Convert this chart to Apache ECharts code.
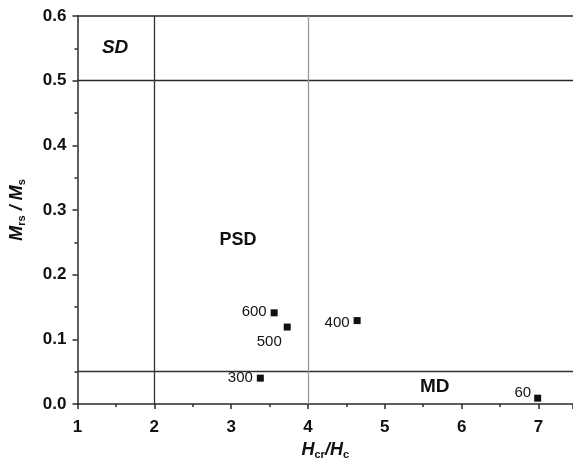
<!DOCTYPE html>
<html>
<head>
<meta charset="utf-8">
<script src="https://cdn.jsdelivr.net/npm/echarts@6/dist/echarts.min.js"></script>
<style>
  html, body { margin: 0; padding: 0; background: #fff; }
  #chart { width: 573px; height: 467px; }
</style>
</head>
<body>
<div id="chart"></div>
<script>
// sample points (Hcr/Hc, Mrs/Ms) with their labels
const sampleNames = ['600', '500', '400', '300', '60']
const hRatio = [3.56, 3.73, 4.64, 3.38, 6.99]
const mRatio = [0.141, 0.119, 0.129, 0.040, 0.009]

// domain boundaries
const mBounds = [0.5, 0.05]
const hBounds = [2, 4]

// region labels
const regionNames = ['SD', 'PSD', 'MD']
const regionX = [1.49, 3.09, 5.65]
const regionY = [0.551, 0.253, 0.027]

const xTicks = [1, 2, 3, 4, 5, 6, 7]

// label placement per sample
const labelPlace = {
  '600': { position: 'left', distance: 4, offset: [0, -1] },
  '500': { position: 'left', distance: 2, offset: [0, 15] },
  '400': { position: 'left', distance: 4, offset: [0, 2] },
  '300': { position: 'left', distance: 4, offset: [0, 0] },
  '60': { position: 'left', distance: 3, offset: [0, -5] }
}

const regionStyle = {
  SD: { fontStyle: 'italic', fontWeight: 'bold', fontSize: 19 },
  PSD: { fontStyle: 'normal', fontWeight: 'bold', fontSize: 18 },
  MD: { fontStyle: 'normal', fontWeight: 'bold', fontSize: 19 }
}

const axisColor = '#2a2a2a'
const textColor = '#111'
const font = '"Liberation Sans", Arial, sans-serif'

const chart = echarts.init(document.getElementById('chart'))

chart.setOption({
  animation: false,
  textStyle: { fontFamily: font },
  grid: { left: 75, right: 0, top: 16, bottom: 63 },
  xAxis: [
    {
      type: 'value',
      min: 1,
      max: 7.45,
      interval: 1,
      name: '{m|H}{sub|cr}{m|/H}{sub|c}',
      nameLocation: 'middle',
      nameGap: 34,
      nameTextStyle: {
        rich: {
          m: { fontSize: 18, fontStyle: 'italic', fontWeight: 'bold', color: textColor, fontFamily: font },
          sub: { fontSize: 11, fontWeight: 'bold', color: textColor, padding: [10, 0, 0, 0], fontFamily: font }
        }
      },
      axisLine: { show: true, lineStyle: { color: axisColor, width: 1.5 } },
      axisTick: { show: true, inside: false, length: 5, lineStyle: { color: axisColor, width: 1.5 } },
      minorTick: { show: true, splitNumber: 2, length: 3, lineStyle: { color: axisColor, width: 1.5 } },
      axisLabel: {
        showMaxLabel: false,
        margin: 15,
        fontSize: 17,
        fontWeight: 'bold',
        color: textColor,
        formatter: v => (xTicks.indexOf(v) >= 0 ? String(v) : '')
      },
      splitLine: { show: false }
    },
    {
      type: 'value',
      position: 'top',
      min: 1,
      max: 7.45,
      interval: 1,
      axisLine: { show: true, lineStyle: { color: axisColor, width: 1.5 } },
      axisTick: { show: false },
      axisLabel: { show: false },
      splitLine: { show: false }
    }
  ],
  yAxis: {
    type: 'value',
    min: 0,
    max: 0.6,
    interval: 0.1,
    name: '{m|M}{sub|rs}{m| / M}{sub|s}',
    nameLocation: 'middle',
    nameGap: 50,
    nameTextStyle: {
      rich: {
        m: { fontSize: 18, fontStyle: 'italic', fontWeight: 'bold', color: textColor, fontFamily: font },
        sub: { fontSize: 11, fontWeight: 'bold', color: textColor, padding: [10, 0, 0, 0], fontFamily: font }
      }
    },
    axisLine: { show: true, lineStyle: { color: axisColor, width: 1.5 } },
    axisTick: { show: true, inside: false, length: 5, lineStyle: { color: axisColor, width: 1.5 } },
    minorTick: { show: true, splitNumber: 2, length: 3, lineStyle: { color: axisColor, width: 1.5 } },
    axisLabel: {
      margin: 11,
      fontSize: 17,
      fontWeight: 'bold',
      color: textColor,
      formatter: v => v.toFixed(1)
    },
    splitLine: { show: false }
  },
  series: [
    {
      type: 'scatter',
      symbol: 'rect',
      symbolSize: 7,
      itemStyle: { color: '#111', opacity: 1 },
      data: sampleNames.map((n, i) => ({
        value: [hRatio[i], mRatio[i]],
        name: n,
        label: Object.assign({
          show: true,
          formatter: n,
          fontSize: 15,
          color: textColor
        }, labelPlace[n])
      })),
      markLine: {
        silent: true,
        symbol: 'none',
        label: { show: false },
        data: [
          { yAxis: mBounds[0], lineStyle: { color: '#2a2a2a', width: 1.3, type: 'solid' } },
          { yAxis: mBounds[1], lineStyle: { color: '#333', width: 1.3, type: 'solid' } },
          { xAxis: hBounds[0], lineStyle: { color: '#333', width: 1.3, type: 'solid' } },
          { xAxis: hBounds[1], lineStyle: { color: '#999', width: 1.3, type: 'solid' } }
        ]
      },
      z: 5
    },
    {
      type: 'scatter',
      symbolSize: 0,
      silent: true,
      itemStyle: { opacity: 1 },
      data: regionNames.map((n, i) => ({
        value: [regionX[i], regionY[i]],
        label: Object.assign({
          show: true,
          position: 'inside',
          formatter: n,
          color: textColor
        }, regionStyle[n])
      }))
    }
  ]
})
</script>
</body>
</html>
